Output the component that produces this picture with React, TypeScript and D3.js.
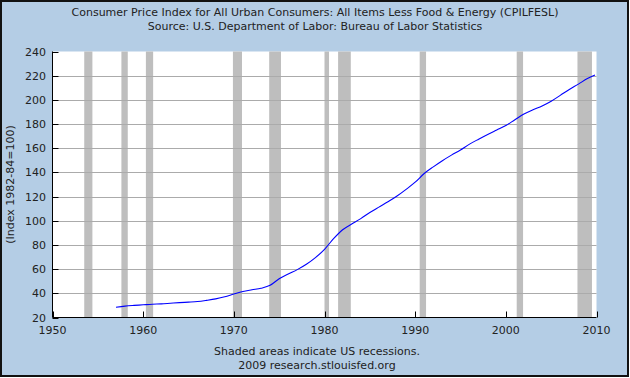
import React from "react";
import * as d3 from "d3";

const years: number[] = [1957, 1958, 1959, 1960, 1961, 1962, 1963, 1964, 1965, 1966, 1967, 1968, 1969, 1970, 1971, 1972, 1973, 1974, 1975, 1976, 1977, 1978, 1979, 1980, 1981, 1982, 1983, 1984, 1985, 1986, 1987, 1988, 1989, 1990, 1991, 1992, 1993, 1994, 1995, 1996, 1997, 1998, 1999, 2000, 2001, 2002, 2003, 2004, 2005, 2006, 2007, 2008, 2009, 2009.83];
const cpiValues: number[] = [28.5, 29.4, 30.0, 30.5, 31.0, 31.3, 31.8, 32.3, 32.7, 33.2, 34.2, 35.4, 37.1, 39.4, 41.5, 42.9, 44.2, 46.6, 52.0, 55.9, 59.6, 64.0, 69.5, 76.4, 85.2, 92.6, 97.3, 101.8, 106.8, 111.3, 115.7, 120.5, 126.0, 131.9, 139.1, 144.6, 149.7, 154.3, 158.6, 163.4, 167.5, 171.4, 175.1, 178.8, 183.6, 188.3, 191.9, 195.0, 198.9, 203.7, 208.6, 213.0, 217.7, 220.6];
const recessionStarts: number[] = [1953.5, 1957.6, 1960.3, 1969.9, 1973.9, 1980.0, 1981.5, 1990.5, 2001.2, 2007.9];
const recessionEnds: number[] = [1954.4, 1958.3, 1961.1, 1970.9, 1975.2, 1980.5, 1982.9, 1991.2, 2001.9, 2009.5];
const yTicks: number[] = [20, 40, 60, 80, 100, 120, 140, 160, 180, 200, 220, 240];
const xTicks: number[] = [1950, 1960, 1970, 1980, 1990, 2000, 2010];

const W = 630;
const H = 378;
const L = 52.5;
const R = 596.5;
const T = 51.5;
const B = 317.5;
const FONT = "'DejaVu Sans', Verdana, sans-serif";
const TEXT = "#222";

export default function App() {
  const x = d3.scaleLinear().domain([1950, 2010]).range([L, R]);
  const y = d3.scaleLinear().domain([20, 240]).range([B, T]);
  const pts = years.map((yr, i) => [yr, cpiValues[i]] as [number, number]);
  const line = d3
    .line<[number, number]>()
    .x((d) => x(d[0]))
    .y((d) => y(d[1]))
    .curve(d3.curveMonotoneX);

  return (
    <svg
      width={W}
      height={H}
      style={{ position: "absolute", left: 0, top: 0, display: "block" }}
      fontFamily={FONT}
    >
      <rect x={1} y={1} width={W - 3} height={H - 3} fill="#B4CDE5" stroke="#111" strokeWidth={2} />
      <rect x={L} y={T} width={R - L} height={B - T} fill="#fff" />
      {recessionStarts.map((s, i) => (
        <rect
          key={i}
          x={x(s)}
          y={T}
          width={x(recessionEnds[i]) - x(s)}
          height={B - T}
          fill="#BEBEBE"
        />
      ))}
      {yTicks.slice(1, -1).map((t) => (
        <line key={t} x1={L} x2={R} y1={Math.round(y(t)) + 0.5} y2={Math.round(y(t)) + 0.5} stroke="#ABABAB" strokeWidth={1} />
      ))}
      <path d={line(pts) || ""} fill="none" stroke="#0000FF" strokeWidth={1.1} />
      <line x1={L} x2={L} y1={T} y2={B} stroke="#000" strokeWidth={1} />
      <line x1={L} x2={R} y1={B} y2={B} stroke="#000" strokeWidth={1} />
      {yTicks.map((t) => (
        <g key={t}>
          <line x1={L} x2={L + 6} y1={Math.round(y(t)) + 0.5} y2={Math.round(y(t)) + 0.5} stroke="#000" />
          <text x={46} y={y(t) + 4} textAnchor="end" fontSize={11} fill={TEXT}>
            {t}
          </text>
        </g>
      ))}
      {xTicks.map((t) => (
        <g key={t}>
          <line x1={Math.round(x(t)) + 0.5} x2={Math.round(x(t)) + 0.5} y1={B} y2={B - 6} stroke="#000" />
          <text x={x(t)} y={334} textAnchor="middle" fontSize={11} fill={TEXT}>
            {t}
          </text>
        </g>
      ))}
      <text x={315} y={16} textAnchor="middle" fontSize={11} fill={TEXT}>
        Consumer Price Index for All Urban Consumers: All Items Less Food &amp; Energy (CPILFESL)
      </text>
      <text x={315} y={30} textAnchor="middle" fontSize={11} fill={TEXT}>
        Source: U.S. Department of Labor: Bureau of Labor Statistics
      </text>
      <text
        transform={`translate(14,${(T + B) / 2}) rotate(-90)`}
        textAnchor="middle"
        fontSize={11}
        fill={TEXT}
      >
        (Index 1982-84=100)
      </text>
      <text x={317} y={355} textAnchor="middle" fontSize={11} fill={TEXT}>
        Shaded areas indicate US recessions.
      </text>
      <text x={317} y={369} textAnchor="middle" fontSize={11} fill={TEXT}>
        2009 research.stlouisfed.org
      </text>
    </svg>
  );
}
